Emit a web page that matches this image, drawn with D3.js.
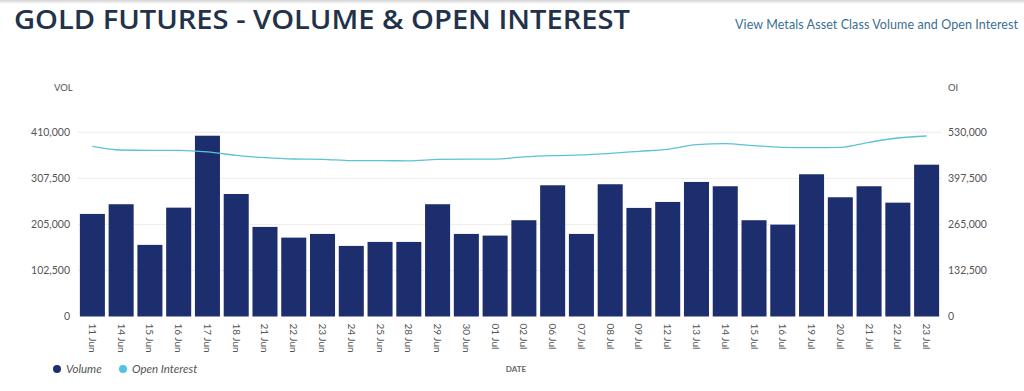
<!DOCTYPE html>
<html>
<head>
<meta charset="utf-8">
<script src="https://cdn.jsdelivr.net/npm/d3@7"></script>
<style>
  body { margin: 0; background: #fff; }
  svg { display: block; }
</style>
</head>
<body>
<div id="chart"></div>
<script>
// dates on the x axis
const dates = ["11 Jun","14 Jun","15 Jun","16 Jun","17 Jun","18 Jun","21 Jun","22 Jun","23 Jun","24 Jun",
  "25 Jun","28 Jun","29 Jun","30 Jun","01 Jul","02 Jul","06 Jul","07 Jul","08 Jul","09 Jul",
  "12 Jul","13 Jul","14 Jul","15 Jul","16 Jul","19 Jul","20 Jul","21 Jul","22 Jul","23 Jul"];

// volume (bars, left axis)
const volume = [228300,249900,159400,242300,402400,272700,199400,175600,183800,157100,
  166000,166000,249900,183800,180100,214300,292100,183800,294400,241700,
  255000,299500,289900,214300,204500,316600,265400,289900,253400,337900];

// open interest (line, right axis)
const openInterest = [489700,479100,478200,478000,473400,463900,457000,453200,452300,448400,
  448400,448000,452000,453000,453000,459000,462700,464800,469600,475300,
  481100,494300,497200,491500,486800,486000,486800,501300,513600,519300];

const volTicks = [0, 102500, 205000, 307500, 410000];
const oiTicks = [0, 132500, 265000, 397500, 530000];

const width = 1024, height = 391;
const plot = { left: 78, right: 941, top: 132.3, bottom: 316.5 };

const svg = d3.select("#chart").append("svg")
  .attr("width", width)
  .attr("height", height)
  .style("font-family", "Lato, 'Open Sans', sans-serif");

// faint shadow at the very top
const grad = svg.append("defs").append("linearGradient")
  .attr("id", "topShade").attr("x1", 0).attr("y1", 0).attr("x2", 0).attr("y2", 1);
grad.append("stop").attr("offset", "0%").attr("stop-color", "#d4d4d4");
grad.append("stop").attr("offset", "100%").attr("stop-color", "#fff");
svg.append("rect").attr("x", 0).attr("y", 0).attr("width", width).attr("height", 4)
  .attr("fill", "url(#topShade)");

// header
svg.append("text")
  .attr("x", 14).attr("y", 29)
  .attr("font-size", 27)
  .attr("font-weight", 600)
  .attr("font-family", "'Open Sans', sans-serif")
  .attr("textLength", 616)
  .attr("lengthAdjust", "spacingAndGlyphs")
  .attr("fill", "#22324a")
  .text("GOLD FUTURES - VOLUME & OPEN INTEREST");

svg.append("text")
  .attr("x", 1018).attr("y", 29)
  .attr("text-anchor", "end")
  .attr("font-size", 12.5)
  .attr("textLength", 283)
  .attr("fill", "#3a6f95")
  .text("View Metals Asset Class Volume and Open Interest");

const x = d3.scaleBand()
  .domain(dates)
  .range([plot.left, plot.right])
  .paddingInner(0.13)
  .paddingOuter(0.065);

const yVol = d3.scaleLinear().domain([0, 410000]).range([plot.bottom, plot.top]);
const yOi = d3.scaleLinear().domain([0, 530000]).range([plot.bottom, plot.top]);

// gridlines
svg.append("g")
  .selectAll("line")
  .data(volTicks.slice(1))
  .join("line")
  .attr("x1", plot.left).attr("x2", plot.right)
  .attr("y1", d => yVol(d)).attr("y2", d => yVol(d))
  .attr("stroke", "#ececec")
  .attr("stroke-width", 1);

// left axis
const leftAxis = svg.append("g")
  .attr("transform", `translate(${plot.left - 8},0)`)
  .call(d3.axisLeft(yVol).tickValues(volTicks).tickSize(0).tickPadding(0)
    .tickFormat(d3.format(",")));
leftAxis.select(".domain").remove();
leftAxis.selectAll("text")
  .attr("font-size", 10.5)
  .attr("fill", "#555")
  .attr("font-family", "Lato, sans-serif");

// right axis
const rightAxis = svg.append("g")
  .attr("transform", `translate(${plot.right + 7},0)`)
  .call(d3.axisRight(yOi).tickValues(oiTicks).tickSize(0).tickPadding(0)
    .tickFormat(d3.format(",")));
rightAxis.select(".domain").remove();
rightAxis.selectAll("text")
  .attr("font-size", 10.5)
  .attr("fill", "#555")
  .attr("font-family", "Lato, sans-serif");

svg.append("text").attr("x", 54).attr("y", 91)
  .attr("font-size", 9.5).attr("fill", "#555").text("VOL");
svg.append("text").attr("x", 948).attr("y", 91)
  .attr("font-size", 9.5).attr("fill", "#555").text("OI");

// bars
svg.append("g")
  .selectAll("rect")
  .data(volume)
  .join("rect")
  .attr("x", (d, i) => x(dates[i]))
  .attr("width", x.bandwidth())
  .attr("y", d => yVol(d))
  .attr("height", d => yVol(0) - yVol(d))
  .attr("fill", "#1d2e6e");

// open interest line
const line = d3.line()
  .x((d, i) => x(dates[i]) + x.bandwidth() / 2)
  .y(d => yOi(d))
  .curve(d3.curveMonotoneX);

svg.append("path")
  .datum(openInterest)
  .attr("d", line)
  .attr("fill", "none")
  .attr("stroke", "#5cc3d3")
  .attr("stroke-width", 1.3);

// x axis labels, rotated
svg.append("g")
  .selectAll("text")
  .data(dates)
  .join("text")
  .attr("transform", d => `translate(${x(d) + x.bandwidth() / 2},${plot.bottom + 7}) rotate(90)`)
  .attr("dy", "0.35em")
  .attr("font-size", 10)
  .attr("fill", "#555")
  .text(d => d);

svg.append("text")
  .attr("x", 516).attr("y", 372)
  .attr("text-anchor", "middle")
  .attr("font-size", 8)
  .attr("font-weight", 700)
  .attr("fill", "#666")
  .text("DATE");

// legend
const legend = [
  { label: "Volume", color: "#1d2e6e", x: 57 },
  { label: "Open Interest", color: "#4fc3e6", x: 123 }
];
const lg = svg.append("g").selectAll("g").data(legend).join("g")
  .attr("transform", d => `translate(${d.x},369)`);
lg.append("circle").attr("r", 4).attr("fill", d => d.color);
lg.append("text")
  .attr("x", 9).attr("dy", "0.35em")
  .attr("font-size", 11.5)
  .attr("font-style", "italic")
  .attr("fill", "#555")
  .text(d => d.label);
</script>
</body>
</html>
